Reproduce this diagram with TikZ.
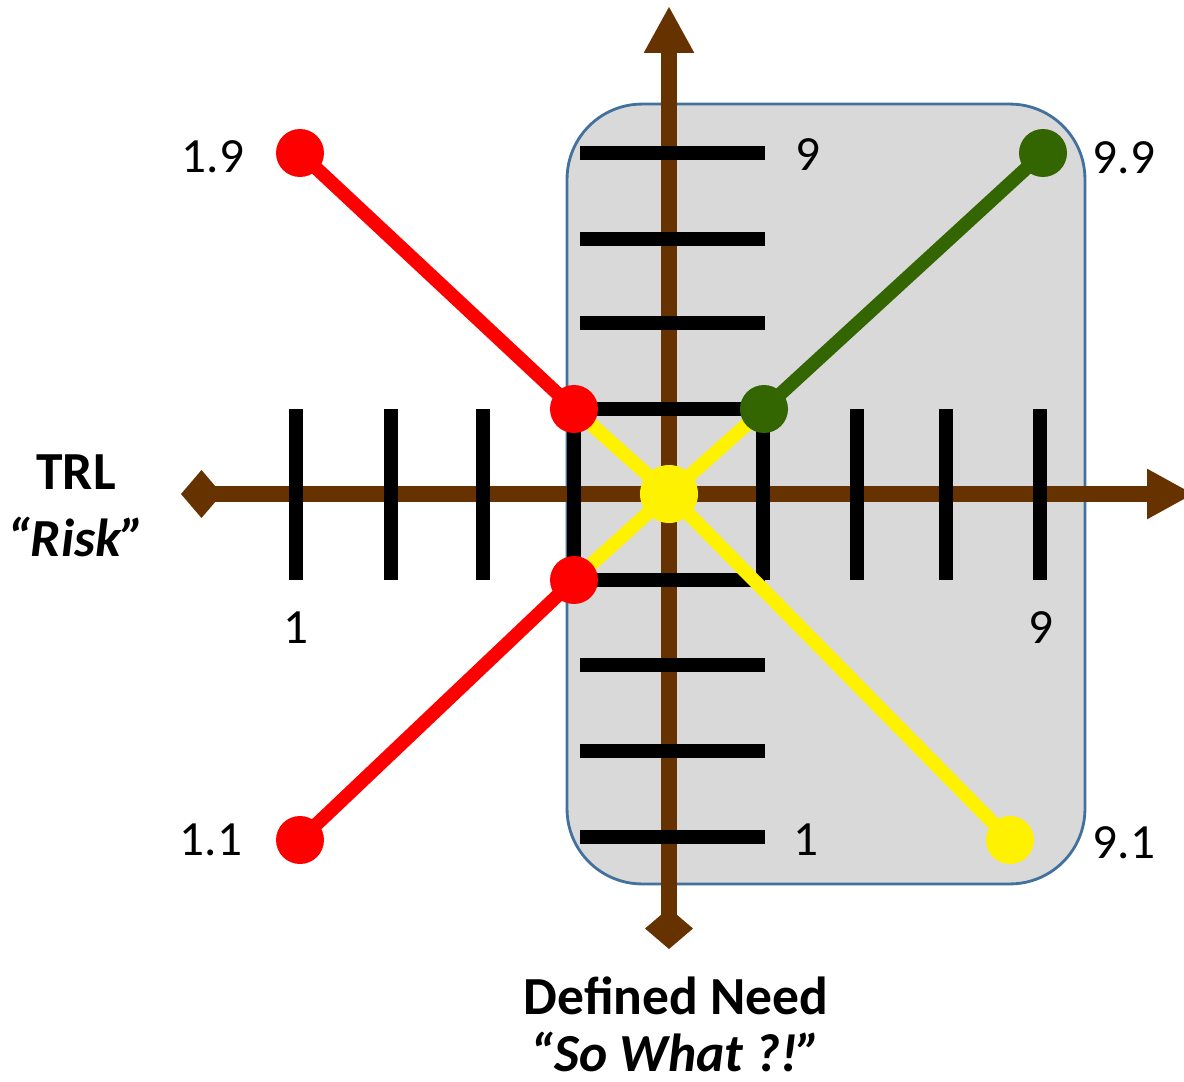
\documentclass[tikz,border=0pt]{standalone}
\usepackage{fontspec}
\setmainfont{Carlito}
\usetikzlibrary{arrows.meta,positioning}
\definecolor{axisbrown}{HTML}{663300}
\definecolor{panelgray}{HTML}{D9D9D9}
\definecolor{panelblue}{HTML}{41719C}
\definecolor{darkgreen}{HTML}{336600}
\tikzset{
  panel/.style={draw=panelblue, fill=panelgray, line width=1.6pt, rounded corners=1.5cm, minimum width=10.36cm, minimum height=15.6cm, inner sep=0pt},
  axis/.style={draw=axisbrown, line width=9.1pt, {Diamond[length=0.82cm,width=0.96cm]}-{Triangle[length=0.94cm,width=0.94cm]}},
  tickmark/.style={draw=black, line width=8.5pt},
  link/.style={line width=7.8pt},
  dot/.style={circle, inner sep=0pt, minimum size=0.96cm},
  bigdot/.style={circle, inner sep=0pt, minimum size=1.16cm},
  lbl/.style={inner sep=0pt, font=\fontsize{28}{34}\selectfont},
  heading/.style={inner sep=0pt, font=\fontsize{30.5}{36}\selectfont\bfseries},
  subheading/.style={inner sep=0pt, font=\fontsize{30.5}{36}\selectfont\bfseries\itshape}
}

\begin{document}
\begin{tikzpicture}[x=0.02cm, y=-0.02cm]
\useasboundingbox (0,0) rectangle (1184,1082);
\node[panel] (zone) at (826,494) {};
% axes
\draw[axis] (181,494) -- (1194,494);
\draw[axis] (669,949) -- (669,6);
% tick marks
\draw[tickmark] (580,153) -- (765,153) (580,239) -- (765,239) (580,323) -- (765,323) (580,409) -- (765,409)
  (580,580) -- (765,580) (580,665) -- (765,665) (580,751) -- (765,751) (580,837) -- (765,837);
\draw[tickmark] (296,409) -- (296,580) (391,409) -- (391,580) (483,409) -- (483,580) (574,409) -- (574,580)
  (763,409) -- (763,580) (857,409) -- (857,580) (946,409) -- (946,580) (1040,409) -- (1040,580);
% points
\coordinate (p19) at (300,153);
\coordinate (p11) at (300,840);
\coordinate (p99) at (1043,153);
\coordinate (p91) at (1010,840);
\coordinate (qtl) at (574,409);
\coordinate (qbl) at (574,580);
\coordinate (qtr) at (764,409);
\coordinate (mid) at (669,494);
\draw[link, red] (p19) -- (qtl);
\draw[link, red] (p11) -- (qbl);
\draw[link, darkgreen] (p99) -- (qtr);
\draw[link, yellow] (qtl) -- (mid) -- (p91);
\draw[link, yellow] (qtr) -- (mid) -- (qbl);
\node[dot, fill=red] (d19) at (p19) {};
\node[dot, fill=red] (d11) at (p11) {};
\node[dot, fill=red] (dtl) at (qtl) {};
\node[dot, fill=red] (dbl) at (qbl) {};
\node[dot, fill=darkgreen] (d99) at (p99) {};
\node[dot, fill=darkgreen] (dtr) at (qtr) {};
\node[dot, fill=yellow] (d91) at (p91) {};
\node[bigdot, fill=yellow] (dmid) at (mid) {};
% labels
\node[lbl] (l19) at (213,157) {1.9};
\node[lbl] (l99) at (1124,158) {9.9};
\node[lbl] (l11) at (211,840) {1.1};
\node[lbl] (l91) at (1124,843) {9.1};
\node[lbl] (ltop) at (808,155) {9};
\node[lbl] (lbot) at (806,840) {1};
\node[lbl] (lleft) at (296,628) {1};
\node[lbl] (lright) at (1041,628) {9};
\node[heading] (trl) at (76,472) {TRL};
\node[subheading] (risk) at (76,537) {“Risk”};
\node[heading] (need) at (676,996) {Defined Need};
\node[subheading] (sowhat) at (676,1052) {“So What ?!”};
\end{tikzpicture}
\end{document}
